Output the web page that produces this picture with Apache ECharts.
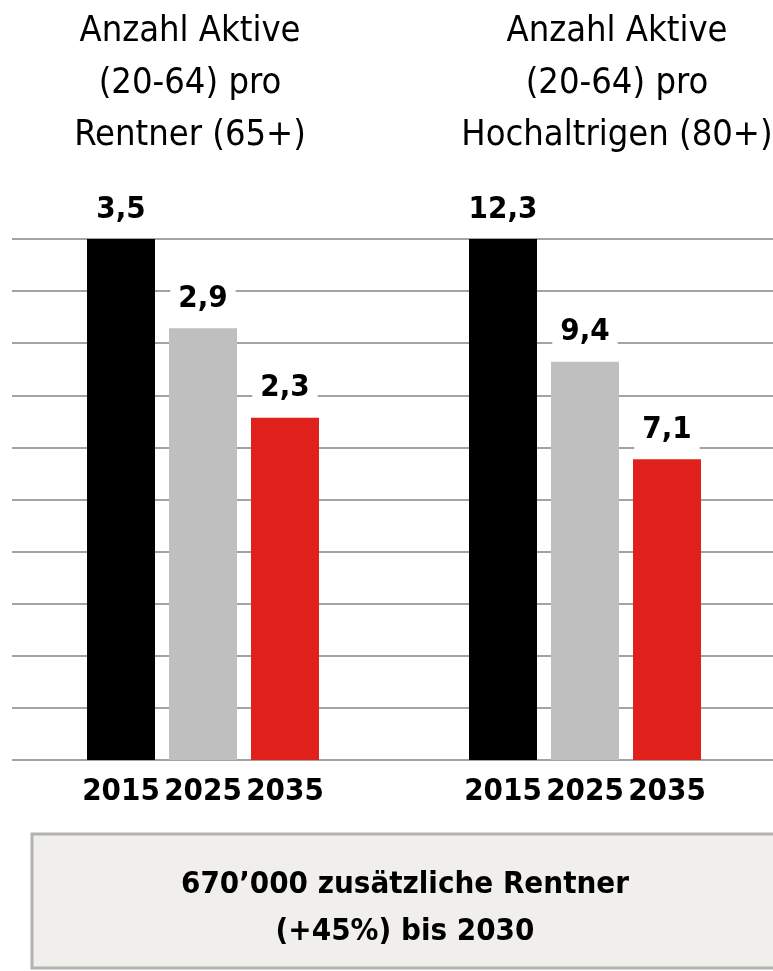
<!DOCTYPE html>
<html>
<head>
<meta charset="utf-8">
<script src="https://cdn.jsdelivr.net/npm/echarts@6/dist/echarts.min.js"></script>
<style>
  html, body { margin: 0; padding: 0; background: #fff; }
  #chart { width: 773px; height: 971px; }
</style>
</head>
<body>
<div id="chart"></div>
<script>
  // Daten
  var years = ['2015', '2025', '2035'];
  var aktiveProRentner = [3.5, 2.9, 2.3];        // 20-64 pro 65+
  var aktiveProHochaltrige = [12.3, 9.4, 7.1];   // 20-64 pro 80+
  var barColors = ['#000000', '#bfbfbf', '#e0201b'];

  var font = "'DejaVu Sans Condensed', 'Liberation Sans Narrow', sans-serif";

  var myChart = echarts.init(document.getElementById('chart'));

  function komma(p) {
    return String(p.value).replace('.', ',');
  }

  var barLabel = {
    show: true,
    position: 'top',
    distance: 10,
    formatter: komma,
    fontFamily: font,
    fontWeight: 'bold',
    fontSize: 31,
    color: '#000',
    backgroundColor: '#fff',
    padding: [4, 8, 4, 8]
  };

  var catAxis = function (gridIndex) {
    return {
      type: 'category',
      gridIndex: gridIndex,
      data: years,
      axisLine: { show: false },
      axisTick: { show: false },
      axisLabel: {
        interval: 0,
        hideOverlap: false,
        margin: 16,
        fontFamily: font,
        fontWeight: 'bold',
        fontSize: 31,
        color: '#000'
      }
    };
  };

  var titleStyle = { fontFamily: font, fontWeight: 'normal', fontSize: 36, lineHeight: 52, color: '#000' };

  var option = {
    animation: false,
    backgroundColor: '#fff',
    title: [
      {
        text: 'Anzahl Aktive\n(20-64) pro\nRentner (65+)',
        left: 185, top: 1, textAlign: 'center',
        textStyle: titleStyle
      },
      {
        text: 'Anzahl Aktive\n(20-64) pro\nHochaltrigen (80+)',
        left: 612, top: 1, textAlign: 'center',
        textStyle: titleStyle
      }
    ],
    grid: [
      { left: 12, right: 0, top: 239, bottom: 211 },   // Hilfslinien
      { left: 80, width: 246, top: 239, bottom: 211 },
      { left: 462, width: 246, top: 239, bottom: 211 }
    ],
    xAxis: [
      { type: 'value', gridIndex: 0, min: 0, max: 1, show: false },
      catAxis(1),
      catAxis(2)
    ],
    yAxis: [
      {
        type: 'value', gridIndex: 0, min: 0, max: 10, interval: 1,
        axisLine: { show: false }, axisTick: { show: false }, axisLabel: { show: false },
        splitLine: { lineStyle: { color: '#a3a3a3', width: 2 } }
      },
      { type: 'value', gridIndex: 1, min: 0, max: 3.5, show: false, splitLine: { show: false } },
      { type: 'value', gridIndex: 2, min: 0, max: 12.3, show: false, splitLine: { show: false } }
    ],
    series: [
      {
        name: 'Rentner (65+)',
        type: 'bar',
        xAxisIndex: 1, yAxisIndex: 1,
        barWidth: 68,
        data: aktiveProRentner,
        itemStyle: { color: function (p) { return barColors[p.dataIndex]; } },
        label: barLabel
      },
      {
        name: 'Hochaltrige (80+)',
        type: 'bar',
        xAxisIndex: 2, yAxisIndex: 2,
        barWidth: 68,
        data: aktiveProHochaltrige,
        itemStyle: { color: function (p) { return barColors[p.dataIndex]; } },
        label: barLabel
      }
    ],
    graphic: [
      {
        type: 'rect',
        shape: { x: 32, y: 834, width: 760, height: 134 },
        style: { fill: '#f0efec', stroke: '#b3b3b3', lineWidth: 3 }
      },
      {
        type: 'text',
        x: 405, y: 908,
        style: {
          text: '670\u2019000 zusätzliche Rentner\n(+45%) bis 2030',
          fontFamily: font, fontWeight: 'bold', fontSize: 31, lineHeight: 47,
          fill: '#000', align: 'center', verticalAlign: 'middle'
        }
      }
    ]
  };

  myChart.setOption(option);
</script>
</body>
</html>
